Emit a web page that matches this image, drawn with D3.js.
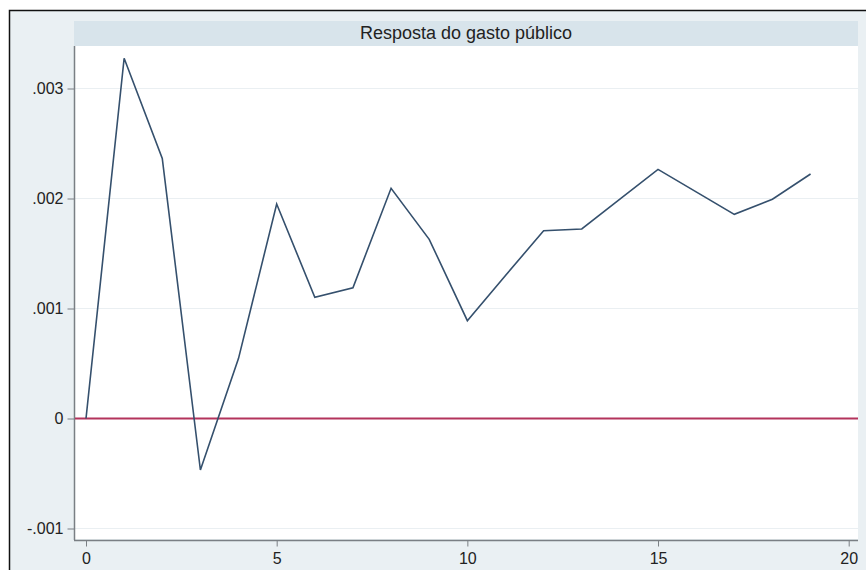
<!DOCTYPE html>
<html>
<head>
<meta charset="utf-8">
<script src="https://cdn.jsdelivr.net/npm/d3@7"></script>
<style>
	body { margin: 0; background: #ffffff; }
	text { font-family: "Liberation Sans", Arial, sans-serif; fill: #222; }
</style>
</head>
<body>
<div class="container"></div>
<script>
const WIDTH = 866;
const HEIGHT = 570;
const PLOT_LEFT = 74;
const PLOT_RIGHT = 858;
const PLOT_TOP = 46;
const PLOT_BOTTOM = 540;

// data
var periods = [0,1,2,3,4,5,6,7,8,9,10,11,12,13,14,15,16,17,18,19];
var response = [0, 0.003275, 0.002365, -0.000468, 0.000547, 0.00195, 0.001102, 0.001189,
	0.002093, 0.001629, 0.000889, 0.0013, 0.001707, 0.001723, 0.001994, 0.002265,
	0.00206, 0.001856, 0.001993, 0.002223];
var xTicks = [0, 5, 10, 15, 20];
var yTicks = [-0.001, 0, 0.001, 0.002, 0.003];
var yTickLabels = ["-.001", "0", ".001", ".002", ".003"];
var title = "Resposta do gasto público";

var load = function(){
	var xScale = d3.scaleLinear()
		.domain([0, 20])
		.range([86, 848.7]);

	var yScale = d3.scaleLinear()
		.domain([-0.001, 0.003])
		.range([528.5, 88.5]);

	var svg = d3.select(".container").append("svg")
		.attr("width", WIDTH)
		.attr("height", HEIGHT);

	// outer frame
	svg.append("rect")
		.attr("x", 9.5).attr("y", 10.5)
		.attr("width", WIDTH + 10).attr("height", HEIGHT + 10)
		.attr("fill", "#eaf0f3")
		.attr("stroke", "#111")
		.attr("stroke-width", 1.5);

	// title bar
	svg.append("rect")
		.attr("x", PLOT_LEFT).attr("y", 21)
		.attr("width", PLOT_RIGHT - PLOT_LEFT).attr("height", 25)
		.attr("fill", "#d8e4eb");

	svg.append("text")
		.attr("x", (PLOT_LEFT + PLOT_RIGHT) / 2)
		.attr("y", 39)
		.attr("text-anchor", "middle")
		.style("font-size", "18px")
		.text(title);

	// plot region
	svg.append("rect")
		.attr("x", PLOT_LEFT).attr("y", PLOT_TOP)
		.attr("width", PLOT_RIGHT - PLOT_LEFT).attr("height", PLOT_BOTTOM - PLOT_TOP - 1)
		.attr("fill", "#ffffff");

	// grid lines
	svg.append("g").selectAll("line").data(yTicks)
		.enter()
		.append("line")
		.attr("x1", PLOT_LEFT).attr("x2", PLOT_RIGHT)
		.attr("y1", function(d){ return yScale(d)})
		.attr("y2", function(d){ return yScale(d)})
		.attr("stroke", "#eaeff2")
		.attr("stroke-width", 1.2);

	var xAxis = d3.axisBottom(xScale).tickValues(xTicks).tickSize(6).tickPadding(6)
		.tickFormat(d3.format("d"));
	var yAxis = d3.axisLeft(yScale).tickValues(yTicks).tickSize(7).tickPadding(4)
		.tickFormat(function(d, i){ return yTickLabels[i]});

	var xAxisGroup = svg.append("g")
		.attr("transform", "translate(0," + (PLOT_BOTTOM + 0.5) + ")")
		.call(xAxis);
	xAxisGroup.select(".domain")
		.attr("d", "M" + PLOT_LEFT + ",0H" + PLOT_RIGHT);

	var yAxisGroup = svg.append("g")
		.attr("transform", "translate(" + (PLOT_LEFT + 0.5) + ",0)")
		.call(yAxis);
	yAxisGroup.select(".domain")
		.attr("d", "M0," + PLOT_TOP + "V" + PLOT_BOTTOM);

	svg.selectAll(".domain").attr("stroke", "#7a7f84").attr("stroke-width", 1.5);
	svg.selectAll(".tick line").attr("stroke", "#7a7f84");
	svg.selectAll(".tick text")
		.style("font-size", "16px")
		.style("font-family", "'Liberation Sans', Arial, sans-serif")
		.attr("fill", "#222");

	// zero line
	svg.append("line")
		.attr("x1", PLOT_LEFT + 1).attr("x2", PLOT_RIGHT)
		.attr("y1", yScale(0)).attr("y2", yScale(0))
		.attr("stroke", "#b3335c")
		.attr("stroke-width", 2);

	// response line
	var line = d3.line()
		.x(function(d, i){ return xScale(periods[i])})
		.y(function(d){ return yScale(d)});

	svg.append("path")
		.attr("d", line(response))
		.style("fill", "none")
		.attr("stroke", "#35506d")
		.attr("stroke-width", 1.6)
		.attr("stroke-linejoin", "miter");
};

window.onload = load;
</script>
</body>
</html>
